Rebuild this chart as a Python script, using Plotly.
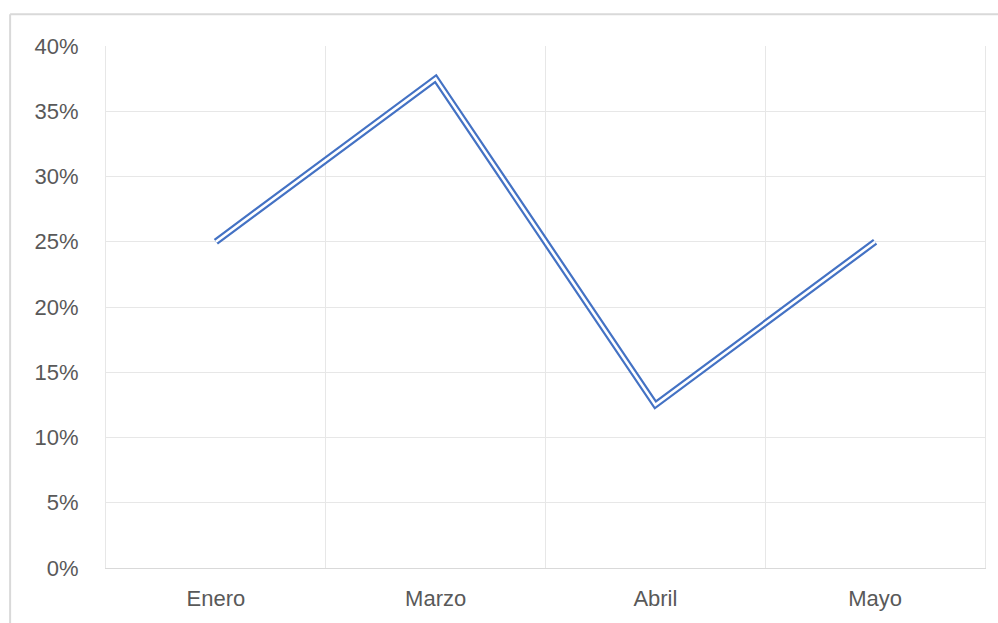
import plotly.graph_objects as go

# Monthly share values
months = ["Enero", "Marzo", "Abril", "Mayo"]
shares = [0.25, 0.375, 0.125, 0.25]
y_ticks = [0, 0.05, 0.10, 0.15, 0.20, 0.25, 0.30, 0.35, 0.40]

W, H = 998, 623
ML, MR, MT, MB = 106, 12, 46, 49
PW, PH = W - ML - MR, H - MT - MB

BLUE = "#4472C4"
TEXT = "#595959"
GRID = "#e7e7e7"
FONT = "Liberation Sans, Arial, sans-serif"


def px_x(x):
    return (x - ML) / PW


def px_y(y):
    return 1 - (y - MT) / PH


fig = go.Figure()
# Compound (double) line: wide blue stroke with a thin white core
fig.add_trace(go.Scatter(x=months, y=shares, mode="lines",
                         line=dict(color=BLUE, width=7), hoverinfo="skip"))
fig.add_trace(go.Scatter(x=months, y=shares, mode="lines",
                         line=dict(color="white", width=2.6), hoverinfo="skip"))

# Chart-area border (top and left edges)
border = dict(type="line", xref="paper", yref="paper",
              line=dict(color="#d9d9d9", width=2), layer="above")
fig.add_shape(**border, x0=px_x(10), x1=px_x(1010), y0=px_y(14), y1=px_y(14))
fig.add_shape(**border, x0=px_x(10), x1=px_x(10), y0=px_y(14), y1=px_y(640))

fig.update_layout(
    width=W, height=H,
    margin=dict(l=ML, r=MR, t=MT, b=MB, pad=0),
    paper_bgcolor="white", plot_bgcolor="white",
    showlegend=False,
    font=dict(family=FONT, size=22, color=TEXT),
)
fig.update_xaxes(
    type="category", range=[-0.5, len(months) - 0.5],
    tickson="boundaries", showgrid=True, gridcolor=GRID, gridwidth=1,
    showline=True, linecolor="#d9d9d9", linewidth=1,
    ticks="", ticklabelstandoff=11, zeroline=False,
    mirror=False,
)
fig.update_yaxes(
    range=[0, 0.4], tickvals=y_ticks, tickformat=".0%",
    showgrid=True, gridcolor=GRID, gridwidth=1,
    zeroline=False, showline=True, linecolor=GRID, linewidth=1,
    mirror=True, ticks="",
    ticklabelstandoff=22,
)

fig.write_html("out.html")
